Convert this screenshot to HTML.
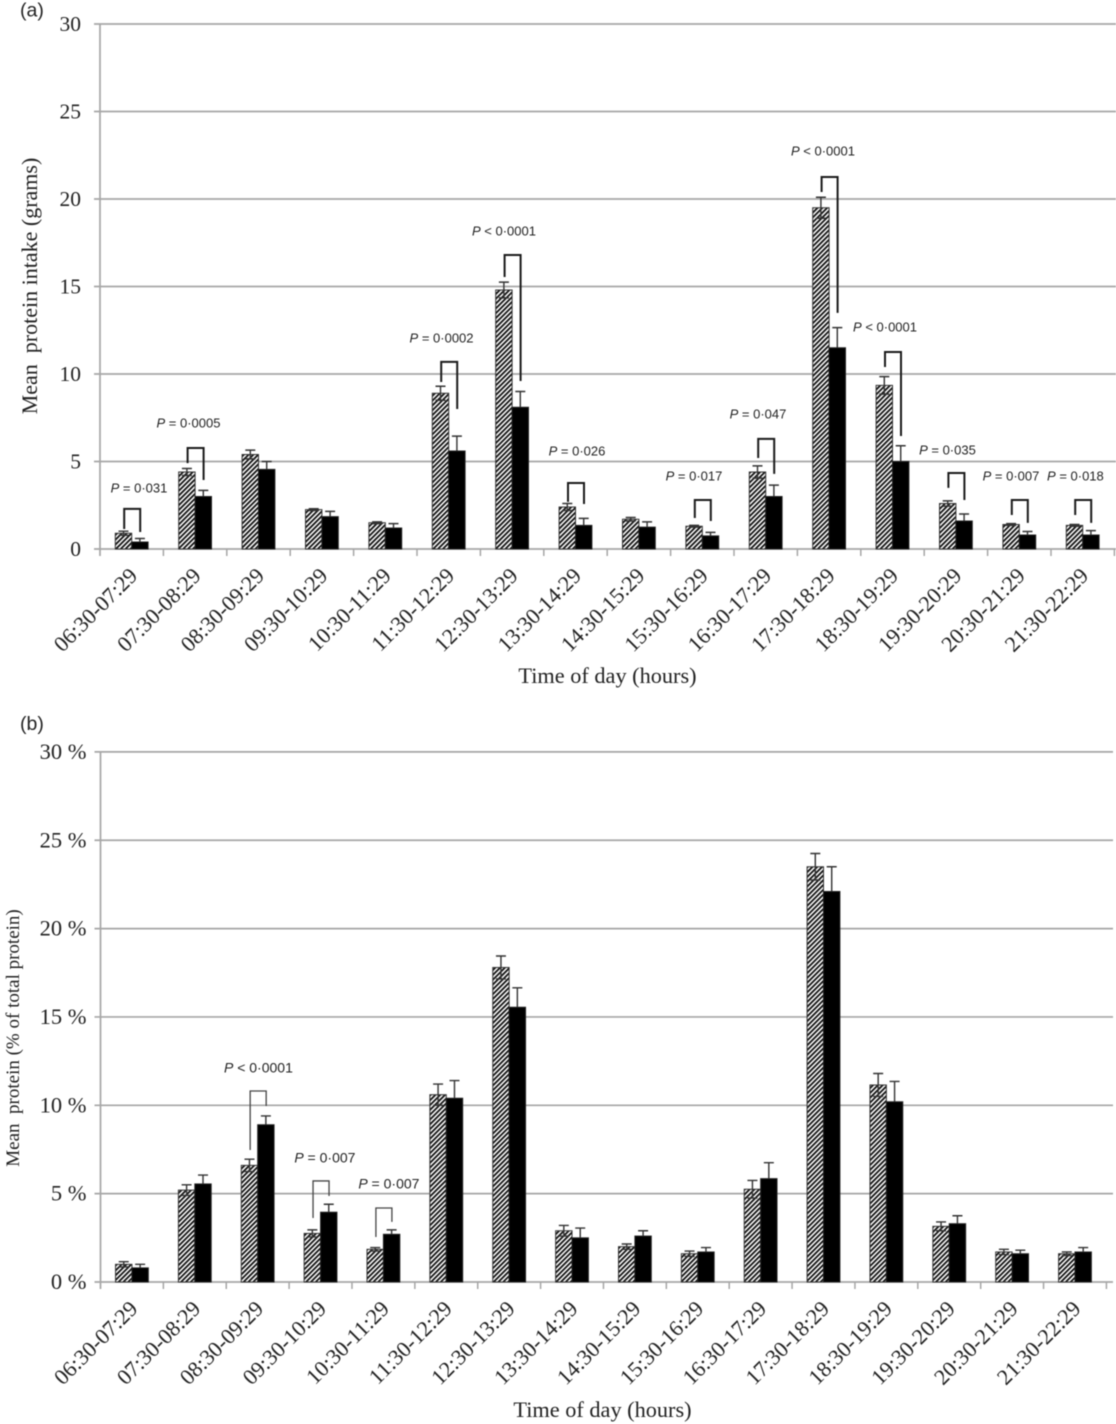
<!DOCTYPE html>
<html lang="en">
<head>
<meta charset="utf-8">
<title>Mean protein intake by time of day</title>
<style>
html,body{margin:0;padding:0;background:#fff;width:1116px;height:1424px;overflow:hidden}
svg{display:block;filter:blur(.5px)}
.serif{font-family:"Liberation Serif",serif;fill:#222}
.sans{font-family:"Liberation Sans",sans-serif;fill:#222}
</style>
</head>
<body>
<svg id="chart" xmlns="http://www.w3.org/2000/svg" width="1116" height="1424" viewBox="0 0 1116 1424">
  <defs>
    <pattern id="hatch" patternUnits="userSpaceOnUse" width="3.4" height="3.4" patternTransform="rotate(45)">
      <rect width="3.4" height="3.4" fill="#fff"/>
      <rect width="1.8" height="3.4" fill="#111"/>
    </pattern>
  </defs>
  <text class="sans" x="20" y="16.5" font-size="19.5">(a)</text>
  <text class="sans" x="20" y="730" font-size="19.5">(b)</text>
  <g id="panelA"></g>
  <g id="panelB"></g>
</svg>
<script>
const categories = ["06:30-07:29","07:30-08:29","08:30-09:29","09:30-10:29","10:30-11:29","11:30-12:29","12:30-13:29","13:30-14:29","14:30-15:29","15:30-16:29","16:30-17:29","17:30-18:29","18:30-19:29","19:30-20:29","20:30-21:29","21:30-22:29"];

const gramsTicks = [0,5,10,15,20,25,30];
const gramsTickLabels = ["0","5","10","15","20","25","30"];
const gramsHatched = [0.9,4.4,5.4,2.25,1.5,8.9,14.8,2.4,1.7,1.3,4.4,19.5,9.35,2.6,1.4,1.35];
const gramsSolid = [0.4,3.0,4.55,1.85,1.2,5.6,8.1,1.35,1.25,0.75,3.0,11.5,5.0,1.6,0.8,0.8];
const gramsHatchedErr = [0.12,0.2,0.25,0.05,0.05,0.4,0.45,0.2,0.1,0.05,0.35,0.6,0.5,0.15,0.05,0.05];
const gramsSolidErr = [0.2,0.35,0.45,0.3,0.25,0.85,0.9,0.4,0.3,0.2,0.65,1.15,0.9,0.4,0.2,0.25];

const gramsBracketCats = [0,1,5,6,7,9,10,11,12,13,14,15];
const gramsBracketTops = [2.29,5.77,10.69,16.8,3.77,2.8,6.29,21.26,11.26,4.34,2.8,2.8];
const gramsBracketLeftEnds = [1.14,4.91,9.54,15.54,2.69,1.77,5.2,20.4,10.4,3.49,1.94,1.94];
const gramsBracketRightEnds = [0.97,3.94,8.0,9.6,2.57,1.6,4.29,13.49,6.46,2.8,1.49,1.49];
const gramsPText = ["= 0·031","= 0·0005","= 0·0002","< 0·0001","= 0·026","= 0·017","= 0·047","< 0·0001","< 0·0001","= 0·035","= 0·007","= 0·018"];
const gramsPCatPos = [0.615,1.396,5.387,6.372,7.524,9.369,10.379,11.404,12.382,13.367,14.369,15.385];
const gramsPLevel = [3.49,7.2,12.06,18.17,5.6,4.17,7.71,22.74,12.69,5.66,4.17,4.17];

const percentTicks = [0,5,10,15,20,25,30];
const percentTickLabels = ["0 %","5 %","10 %","15 %","20 %","25 %","30 %"];
const percentHatched = [1.0,5.2,6.6,2.75,1.85,10.6,17.8,2.9,2.0,1.6,5.25,23.5,11.15,3.15,1.7,1.6];
const percentSolid = [0.8,5.55,8.9,3.95,2.7,10.4,15.55,2.5,2.6,1.7,5.85,22.1,10.2,3.3,1.6,1.7];
const percentHatchedErr = [0.15,0.3,0.35,0.2,0.1,0.6,0.65,0.3,0.15,0.15,0.5,0.75,0.65,0.25,0.15,0.1];
const percentSolidErr = [0.2,0.5,0.5,0.45,0.25,1.0,1.1,0.55,0.3,0.25,0.9,1.4,1.15,0.45,0.2,0.25];

const percentBracketCats = [2,3,4];
const percentBracketTops = [10.81,5.72,4.19];
const percentBracketLeftEnds = [7.47,3.62,2.55];
const percentBracketRightEnds = [9.96,4.87,3.4];
const percentPText = ["< 0·0001","= 0·007","= 0·007"];
const percentPCatPos = [2.512,3.569,4.587];
const percentPLevel = [12.11,7.02,5.55];

const NS = "http://www.w3.org/2000/svg";

function make(parent, tag, attrs) {
  const el = document.createElementNS(NS, tag);
  for (const k in attrs) el.setAttribute(k, attrs[k]);
  parent.appendChild(el);
  return el;
}

function drawPanel(cfg) {
  const g = document.getElementById(cfg.id);
  const yScale = v => cfg.y0 - v * cfg.pxPerUnit;
  const xBand = c => cfg.x0 + c * cfg.band;
  const barW = 16.4;

  // gridlines and y labels
  cfg.ticks.forEach((t, i) => {
    const y = yScale(t);
    const line = make(g, "line", {x1: cfg.x0 - 6, x2: cfg.xEnd, y1: y, y2: y, stroke: "#a6a6a6", "stroke-width": 1.7});
    
    
    const lab = make(g, "text", {class: "serif", x: cfg.tickRight, y: y + 7, "text-anchor": "end", "font-size": cfg.tickFont});
    
    
    lab.textContent = cfg.tickLabels[i];
  });

  // y axis
  const yAxis = make(g, "line", {x1: cfg.x0, x2: cfg.x0, y1: yScale(cfg.ticks[cfg.ticks.length - 1]), y2: cfg.y0 + 7, stroke: "#a6a6a6", "stroke-width": 1.7});
  
  

  // x ticks
  for (let c = 1; c <= categories.length; c++) {
    const tick = make(g, "line", {x1: xBand(c), x2: xBand(c), y1: cfg.y0, y2: cfg.y0 + 7, stroke: "#a6a6a6", "stroke-width": 1.5});
    
    
  }

  // bars
  categories.forEach((cat, i) => {
    const cx = xBand(i + 0.5);
    const hy = yScale(cfg.hatched[i]);
    const sy = yScale(cfg.solid[i]);

    const hb = make(g, "rect", {x: cx - barW, y: hy, width: barW, height: cfg.y0 - hy, fill: "url(#hatch)", stroke: "#333", "stroke-width": 1});
    
    

    const sb = make(g, "rect", {x: cx, y: sy, width: barW, height: cfg.y0 - sy, fill: "#000", stroke: "#222", "stroke-width": 1});
    
    

    // hatched error bar: whiskers up and down
    const hx = cx - barW / 2;
    const hTop = yScale(cfg.hatched[i] + cfg.hatchedErr[i]);
    const hBot = yScale(Math.max(0, cfg.hatched[i] - cfg.hatchedErr[i]));
    const hErr = make(g, "path", {
      d: "M" + (hx - 5) + " " + hTop + "H" + (hx + 5) + "M" + hx + " " + hTop + "V" + hBot + "M" + (hx - 5) + " " + hBot + "H" + (hx + 5),
      fill: "none", stroke: "#333", "stroke-width": 1.4
    });
    
    

    // solid error bar: the lower whisker is hidden in the black bar
    const sx = cx + barW / 2;
    const sTop = yScale(cfg.solid[i] + cfg.solidErr[i]);
    const sErr = make(g, "path", {
      d: "M" + (sx - 5) + " " + sTop + "H" + (sx + 5) + "M" + sx + " " + sTop + "V" + sy,
      fill: "none", stroke: "#333", "stroke-width": 1.4
    });
    
    

    const lab = make(g, "text", {
      class: "serif", "text-anchor": "end", "font-size": cfg.catFont,
      transform: "translate(" + (cx + cfg.catDx) + " " + (cfg.y0 + cfg.catDy) + ") rotate(-45)"
    });
    
    
    lab.textContent = cat;
  });

  // significance brackets
  cfg.bracketCats.forEach((c, i) => {
    const cx = xBand(c + 0.5);
    const l = cx - 7.5, r = cx + 8.5;
    const br = make(g, "path", {
      d: "M" + l + " " + yScale(cfg.bracketLeft[i]) + "V" + yScale(cfg.bracketTop[i]) + "H" + r + "V" + yScale(cfg.bracketRight[i]),
      fill: "none", stroke: cfg.bracketColor, "stroke-width": cfg.bracketWidth
    });
    
    
  });

  // P value labels
  cfg.pText.forEach((txt, i) => {
    const t = make(g, "text", {class: "sans", x: xBand(cfg.pCat[i]), y: yScale(cfg.pLevel[i]) + 4.5, "text-anchor": "middle", "font-size": cfg.pFont});
    
    
    const p = make(t, "tspan", {"font-style": "italic"});
    p.textContent = "P";
    const rest = make(t, "tspan", {});
    rest.textContent = " " + txt;
  });

  // axis titles
  const xt = make(g, "text", {class: "serif", x: cfg.xTitleX, y: cfg.xTitleY, "text-anchor": "middle", "font-size": 22.3});
  
  
  xt.textContent = "Time of day (hours)";

  const yt = make(g, "text", {
    class: "serif", "text-anchor": "middle", "font-size": cfg.yTitleFont,
    transform: "translate(" + cfg.yTitleX + " " + cfg.yTitleY + ") rotate(-90)"
  });
  
  
  yt.style.whiteSpace = "pre";
  yt.textContent = cfg.yTitle;
}

drawPanel({
  id: "panelA", x0: 100, band: 63.4, xEnd: 1116, y0: 549, pxPerUnit: 17.5, tickRight: 81, tickFont: 21.5,
  ticks: gramsTicks, tickLabels: gramsTickLabels,
  hatched: gramsHatched, solid: gramsSolid, hatchedErr: gramsHatchedErr, solidErr: gramsSolidErr,
  bracketCats: gramsBracketCats, bracketTop: gramsBracketTops, bracketLeft: gramsBracketLeftEnds, bracketRight: gramsBracketRightEnds,
  bracketColor: "#1a1a1a", bracketWidth: 2,
  pText: gramsPText, pCat: gramsPCatPos, pLevel: gramsPLevel, pFont: 13,
  catFont: 22, catDx: 7, catDy: 28,
  xTitleX: 607.5, xTitleY: 683, yTitle: "Mean  protein intake (grams)", yTitleFont: 22, yTitleX: 37, yTitleY: 286
});

drawPanel({
  id: "panelB", x0: 100.5, band: 62.87, xEnd: 1113, y0: 1282, pxPerUnit: 17.67, tickRight: 86.5, tickFont: 22.5,
  ticks: percentTicks, tickLabels: percentTickLabels,
  hatched: percentHatched, solid: percentSolid, hatchedErr: percentHatchedErr, solidErr: percentSolidErr,
  bracketCats: percentBracketCats, bracketTop: percentBracketTops, bracketLeft: percentBracketLeftEnds, bracketRight: percentBracketRightEnds,
  bracketColor: "#444", bracketWidth: 1.3,
  pText: percentPText, pCat: percentPCatPos, pLevel: percentPLevel, pFont: 14,
  catFont: 22, catDx: 7, catDy: 28,
  xTitleX: 602.5, xTitleY: 1417, yTitle: "Mean  protein (% of total protein)", yTitleFont: 19, yTitleX: 19, yTitleY: 1038
});
</script>
</body>
</html>
